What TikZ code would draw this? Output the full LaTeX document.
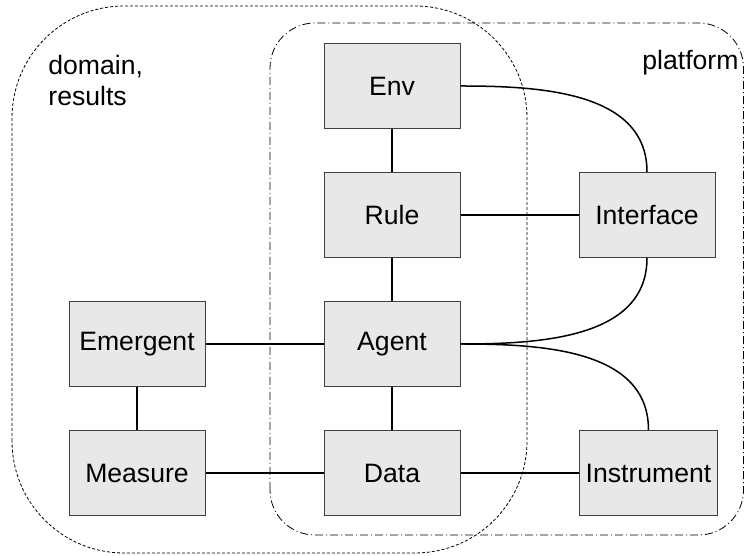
\documentclass[tikz,border=0pt]{standalone}
\usepackage{fontspec}
\setmainfont{Liberation Sans}
\usepackage{tikz}
\usetikzlibrary{positioning}
\tikzset{
    %Define style for boxes
    modul/.style={
           rectangle,
           draw=black!75, fill=black!9,
           line width=0.5pt,
           minimum width=68pt,
           minimum height=42.5pt,
           text centered},
    % Define style for the grouping frames
    ramme/.style={
           draw=black,
           line width=0.4pt},
    % Define connector style
    linje/.style={
           -,
           line width=0.75pt}
}
\begin{document}
\begin{tikzpicture}[x=0.5pt,y=0.5pt,node distance=21.5pt and 59pt,
  every node/.style={font=\fontsize{13.3}{15.5}\selectfont},
  main node/.style={modul}]

\useasboundingbox (0,0) rectangle (745,556);

% frames
\draw[ramme, dash pattern=on 1.5pt off 1pt, rounded corners=56pt] (12,3) rectangle (527,550);
\draw[ramme, dash pattern=on 4pt off 1.5pt on 0.5pt off 1.5pt, rounded corners=22.5pt] (270,21) rectangle (743.5,533);

\node[anchor=base west, align=left, inner sep=0pt] (domain) at (48,450) {domain,\\results};
\node[anchor=base west, inner sep=0pt] (platform) at (642,486) {platform};

\node[main node] (env) at (392,470) {Env};
\node[main node, below=of env] (rule) {Rule};
\node[main node, below=of rule] (agent) {Agent};
\node[main node, below=of agent] (data) {Data};
\node[main node, right=of rule] (interface) {Interface};
\node[main node, right=of data] (instrument) {Instrument};
\node[main node, left=of agent] (emergent) {Emergent};
\node[main node, left=of data] (measure) {Measure};

 \path[linje]
 	(env) edge (rule)
 	(rule) edge (agent)
 	(agent) edge (data)
 	(rule) edge (interface)
 	(emergent) edge (agent)
 		edge (measure)
 	(measure) edge (data)
 	(data) edge (instrument)
 	(env.east) edge[out=0,in=90] (interface.north)
 	(interface.south) edge[out=-90,in=0] (agent.east)
 	(agent.east) edge[out=0,in=90] (instrument.north);

\end{tikzpicture}
\end{document}
